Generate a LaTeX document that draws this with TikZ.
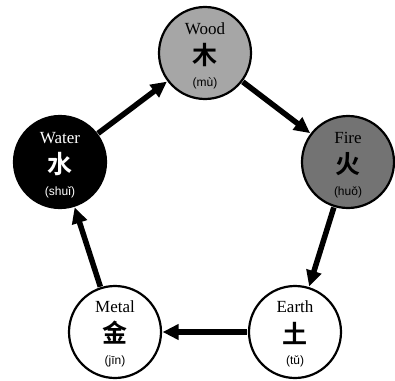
\documentclass[tikz,border=0pt]{standalone}
\usepackage{fontspec}
\setmainfont{Liberation Serif}
\newfontfamily\cjk{Noto Sans CJK SC}[BoldFont={* Bold}]
\newfontfamily\pyfont{Liberation Sans}
\usetikzlibrary{arrows.meta}
\begin{document}
\begin{tikzpicture}[x=1pt,y=-1pt,
  elem/.style={circle,draw=black,line width=2.2pt,minimum size=92pt,inner sep=0pt},
  lbl/.style={font=\fontsize{17}{17}\selectfont},
  han/.style={font=\cjk\bfseries\fontsize{25}{25}\selectfont},
  py/.style={font=\pyfont\fontsize{12}{12}\selectfont},
  flow/.style={line width=5.5pt,-{Triangle[length=16pt,width=15pt]},shorten >=0.5pt,shorten <=0.5pt}]
\useasboundingbox (0,0) rectangle (395,380);
\clip (0,0) rectangle (395,380);
\node[elem,fill=black!35] (wood) at (205,53) {};
\node[elem,fill=black!55] (fire) at (348,162) {};
\node[elem,fill=black] (water) at (60,162) {};
\node[elem,fill=white] (metal) at (115,332) {};
\node[elem,fill=white] (earth) at (295,332) {};
% texts
\node[lbl] (woodA) at (205,29) {Wood};
\node[han] (woodB) at (205,55) {木};
\node[py] (woodC) at (205,83) {(mù)};
\node[lbl] (fireA) at (348,138) {Fire};
\node[han] (fireB) at (348,164) {火};
\node[py] (fireC) at (348,192) {(huǒ)};
\node[lbl,text=white] (waterA) at (60,138) {Water};
\node[han,text=white] (waterB) at (60,164) {水};
\node[py,text=white] (waterC) at (60,192) {(shuǐ)};
\node[lbl] (metalA) at (115,307) {Metal};
\node[han] (metalB) at (115,333) {金};
\node[py] (metalC) at (115,361) {(jīn)};
\node[lbl] (earthA) at (295,307) {Earth};
\node[han] (earthB) at (295,333) {土};
\node[py] (earthC) at (295,361) {(tǔ)};
% arrows
\draw[flow] (water) -- (wood);
\draw[flow] (wood) -- (fire);
\draw[flow] (fire) -- (earth);
\draw[flow] (earth) -- (metal);
\draw[flow] (metal) -- (water);
\end{tikzpicture}
\end{document}
